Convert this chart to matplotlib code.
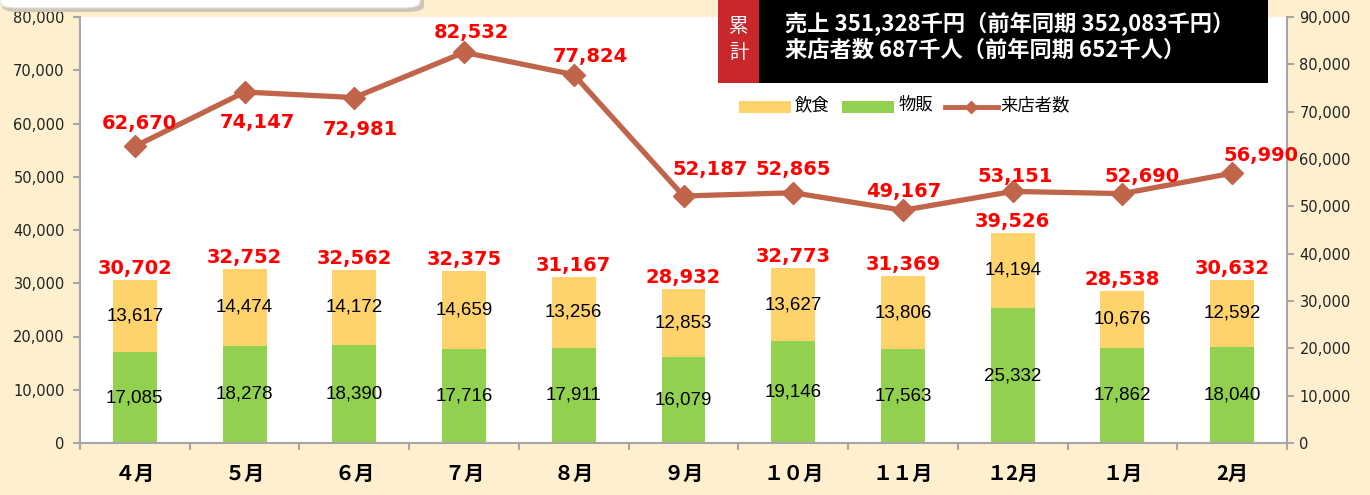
import matplotlib
matplotlib.use("Agg")
import matplotlib.pyplot as plt
from matplotlib.patches import Rectangle, FancyBboxPatch
from matplotlib.lines import Line2D
from matplotlib.ticker import FuncFormatter

plt.rcParams['font.family'] = ['DejaVu Sans', 'Noto Sans CJK JP']

# ---- data ----
months = ["４月", "５月", "６月", "７月", "８月", "９月", "１０月", "１１月", "１2月", "１月", "2月"]
food = [13617, 14474, 14172, 14659, 13256, 12853, 13627, 13806, 14194, 10676, 12592]      # 飲食
retail = [17085, 18278, 18390, 17716, 17911, 16079, 19146, 17563, 25332, 17862, 18040]    # 物販
totals = [30702, 32752, 32562, 32375, 31167, 28932, 32773, 31369, 39526, 28538, 30632]
visitors = [62670, 74147, 72981, 82532, 77824, 52187, 52865, 49167, 53151, 52690, 56990]  # 来店者数
left_ticks = [0, 10000, 20000, 30000, 40000, 50000, 60000, 70000, 80000]
right_ticks = [0, 10000, 20000, 30000, 40000, 50000, 60000, 70000, 80000, 90000]

# label offsets for visitor labels (pixels)
vis_offsets = [(4, 23), (13, -30), (6, -32), (7, 20), (17, 18), (27, 26),
               (0, 23), (1, 19), (2, 15), (20, 17), (29, 18)]

BG = "#FEF0CE"
YELLOW = "#FFD36B"
GREEN = "#92D050"
LINE = "#C0654A"
GRAY = "#A6A6A6"
JP = ['Noto Sans CJK JP', 'DejaVu Sans']

W, H = 1370, 495
fig = plt.figure(figsize=(W / 100, H / 100), dpi=100, facecolor=BG)

def fx(px):
    return px / W

def fy(py):
    return 1 - py / H

ax = fig.add_axes([fx(80), fy(443), fx(1287) - fx(80), fy(17) - fy(443)])
ax.set_facecolor("white")
x = list(range(len(months)))
bw = 0.40
ax.bar(x, retail, width=bw, color=GREEN, zorder=2)
ax.bar(x, food, width=bw, bottom=retail, color=YELLOW, zorder=2)
ax.set_xlim(-0.5, len(months) - 0.5)
ax.set_ylim(0, 80000)
ax.set_yticks(left_ticks)
fmt = FuncFormatter(lambda v, p: f"{int(v):,}")
ax.yaxis.set_major_formatter(fmt)
ax.set_xticks(x)
ax.set_xticklabels(months, fontfamily=JP, fontweight='bold', fontsize=14.5)
ax.set_xticks([i + 0.5 for i in range(-1, len(months))], minor=True)
ax.tick_params(axis='x', which='major', length=0, pad=14)
ax.tick_params(axis='x', which='minor', length=5, width=1.5, color=GRAY, direction='out')
ax.tick_params(axis='y', length=5, width=1.5, color=GRAY, labelsize=10.5, pad=6, labelcolor='#222222')
for s in ['top', 'right']:
    ax.spines[s].set_visible(False)
for s in ['left', 'bottom']:
    ax.spines[s].set_color(GRAY)
    ax.spines[s].set_linewidth(1.5)

# segment labels
for i in x:
    ax.text(i, retail[i] / 2, f"{retail[i]:,}", ha='center', va='center',
            fontsize=13.5, fontfamily='Liberation Sans', color='black', zorder=3)
    ax.text(i, retail[i] + food[i] / 2, f"{food[i]:,}", ha='center', va='center',
            fontsize=13.5, fontfamily='Liberation Sans', color='black', zorder=3)
    ax.annotate(f"{totals[i]:,}", (i, totals[i]), xytext=(0, 2), textcoords='offset pixels',
                ha='center', va='bottom', fontsize=14, fontweight='bold', color='#FF0000', zorder=3)

ax2 = ax.twinx()
ax2.set_ylim(0, 90000)
ax2.set_yticks(right_ticks)
ax2.yaxis.set_major_formatter(fmt)
ax2.plot(x, visitors, color=LINE, lw=3.8, marker='D', ms=11, zorder=4)
ax2.tick_params(axis='y', length=5, width=1.5, color=GRAY, labelsize=10.5, pad=4, labelcolor='#222222')
for s in ['top', 'left', 'bottom']:
    ax2.spines[s].set_visible(False)
ax2.spines['right'].set_color(GRAY)
ax2.spines['right'].set_linewidth(1.5)
for i in x:
    dx, dy = vis_offsets[i]
    ax2.annotate(f"{visitors[i]:,}", (i, visitors[i]), xytext=(dx, dy), textcoords='offset pixels',
                 ha='center', va='center', fontsize=14, fontweight='bold', color='#FF0000', zorder=5)

# top-left white box with shadow
shadow = FancyBboxPatch((fx(2), fy(12)), fx(422), fy(-20) - fy(12),
                        boxstyle="round,pad=0,rounding_size=0.012", transform=fig.transFigure,
                        facecolor="#CFC6B4", edgecolor='none', zorder=0)
fig.patches.append(shadow)
box = FancyBboxPatch((0, fy(8)), fx(420), fy(-20) - fy(8),
                     boxstyle="round,pad=0,rounding_size=0.012", transform=fig.transFigure,
                     facecolor="white", edgecolor="#DDDDDD", lw=0.8, zorder=1)
fig.patches.append(box)

# black summary box
fig.patches.append(Rectangle((fx(718), fy(83)), fx(1268) - fx(718), fy(0) - fy(83),
                             transform=fig.transFigure, facecolor='black', edgecolor='none', zorder=5))
fig.patches.append(Rectangle((fx(718), fy(83)), fx(759) - fx(718), fy(0) - fy(83),
                             transform=fig.transFigure, facecolor='#C8282C', edgecolor='none', zorder=6))
fig.text(fx(739), fy(27), "累", ha='center', va='center', color='white', fontsize=14, fontfamily=JP, zorder=7)
fig.text(fx(739), fy(53), "計", ha='center', va='center', color='white', fontsize=14, fontfamily=JP, zorder=7)
fig.text(fx(785), fy(24), "売上 351,328千円（前年同期 352,083千円）", ha='left', va='center', color='white',
         fontsize=16, fontweight='bold', fontfamily=JP, zorder=7)
fig.text(fx(785), fy(50), "来店者数 687千人（前年同期 652千人）", ha='left', va='center', color='white',
         fontsize=16, fontweight='bold', fontfamily=JP, zorder=7)

# legend
fig.patches.append(Rectangle((fx(739), fy(113)), fx(791) - fx(739), fy(101) - fy(113),
                             transform=fig.transFigure, facecolor=YELLOW, edgecolor='none', zorder=5))
fig.text(fx(795), fy(105), "飲食", ha='left', va='center', fontsize=12.5, fontfamily=JP, zorder=7)
fig.patches.append(Rectangle((fx(842), fy(113)), fx(894) - fx(842), fy(101) - fy(113),
                             transform=fig.transFigure, facecolor=GREEN, edgecolor='none', zorder=5))
fig.text(fx(898), fy(105), "物販", ha='left', va='center', fontsize=12.5, fontfamily=JP, zorder=7)
fig.lines.append(Line2D([fx(945), fx(998)], [fy(107), fy(107)], transform=fig.transFigure,
                        color=LINE, lw=3.5, zorder=5))
fig.lines.append(Line2D([fx(971)], [fy(107)], transform=fig.transFigure, color=LINE,
                        marker='D', ms=6, lw=0, zorder=6))
fig.text(fx(1000), fy(105), "来店者数", ha='left', va='center', fontsize=12.5, fontfamily=JP, zorder=7)

fig.savefig("out.png", dpi=100, facecolor=BG)
